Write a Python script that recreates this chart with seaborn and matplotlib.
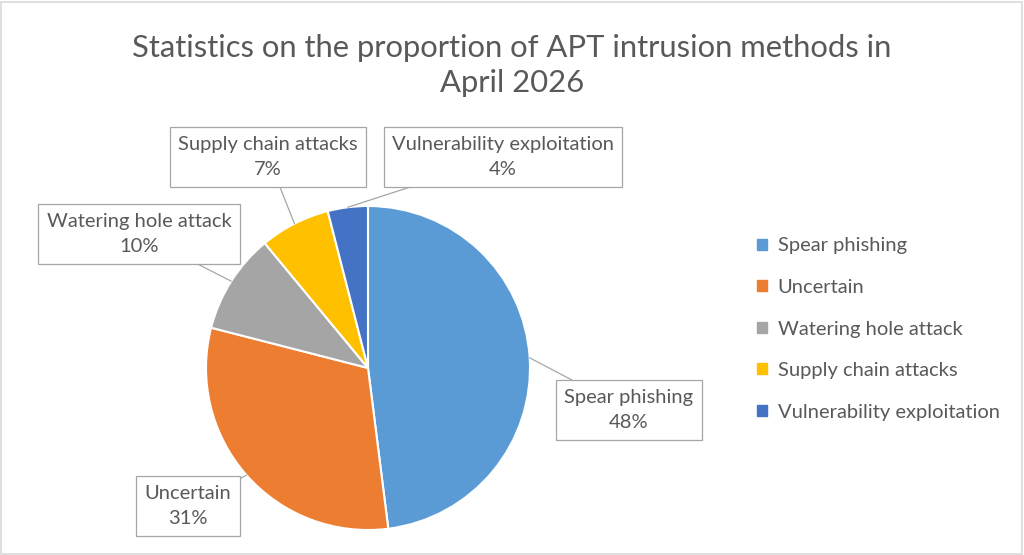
import matplotlib
matplotlib.use("Agg")
import matplotlib.pyplot as plt
import seaborn as sns
import numpy as np

methods = ["Spear phishing", "Uncertain", "Watering hole attack",
           "Supply chain attacks", "Vulnerability exploitation"]
shares = [48, 31, 10, 7, 4]
colors = ["#5B9BD5", "#ED7D31", "#A5A5A5", "#FFC000", "#4472C4"]
title = "Statistics on the proportion of APT intrusion methods in\nApril 2026"

sns.set_theme(style="white")
plt.rcParams["font.family"] = ["Lato", "DejaVu Sans"]
grey = "#595959"

fig = plt.figure(figsize=(10.24, 5.55), dpi=100)
fig.patches.append(plt.Rectangle((0.001, 0.002), 0.997, 0.995, transform=fig.transFigure,
                                 fill=False, edgecolor="#D9D9D9", linewidth=1.2))

fig.text(0.5, 1 - 65.5 / 555, title, ha="center", va="center", fontsize=22.3,
         color=grey, linespacing=1.3)

# pie centre ~ (368, 368) px, radius ~162 px
r_px = 162
ax = fig.add_axes([(368 - r_px) / 1024, (555 - 368 - r_px) / 555,
                   2 * r_px / 1024, 2 * r_px / 555])
wedges, _ = ax.pie(shares, colors=colors, startangle=90, counterclock=False,
                   radius=1, wedgeprops=dict(edgecolor="white", linewidth=1.5))
ax.set_xlim(-1, 1)
ax.set_ylim(-1, 1)
ax.set_aspect("auto")
ax.axis("off")

# label box centres in figure pixels (from top-left of image)
label_pos = [(629, 410), (188, 506), (139, 234), (268, 157), (503, 157)]

for w, name, val, (px, py) in zip(wedges, methods, shares, label_pos):
    ang = np.deg2rad((w.theta1 + w.theta2) / 2)
    xy = (np.cos(ang), np.sin(ang))
    ax.annotate(f"{name}\n{val}%", xy=xy, xycoords="data",
                xytext=(px, 555 - py), textcoords="figure pixels",
                ha="center", va="center", fontsize=14.5, color=grey,
                linespacing=1.6, annotation_clip=False,
                bbox=dict(boxstyle="square,pad=0.42", fc="white",
                          ec="#A6A6A6", lw=0.9),
                arrowprops=dict(arrowstyle="-", color="#A6A6A6", lw=0.9,
                                shrinkA=0, shrinkB=0))

handles = [plt.Rectangle((0, 0), 1, 1, color=c) for c in colors]
fig.legend(handles, methods, loc="center left", bbox_to_anchor=(0.722, 1 - 329 / 555),
           frameon=False, fontsize=14.5, labelcolor=grey, handlelength=0.45,
           handleheight=0.45, handletextpad=0.55, labelspacing=1.22)

fig.savefig("out.png", dpi=100)
